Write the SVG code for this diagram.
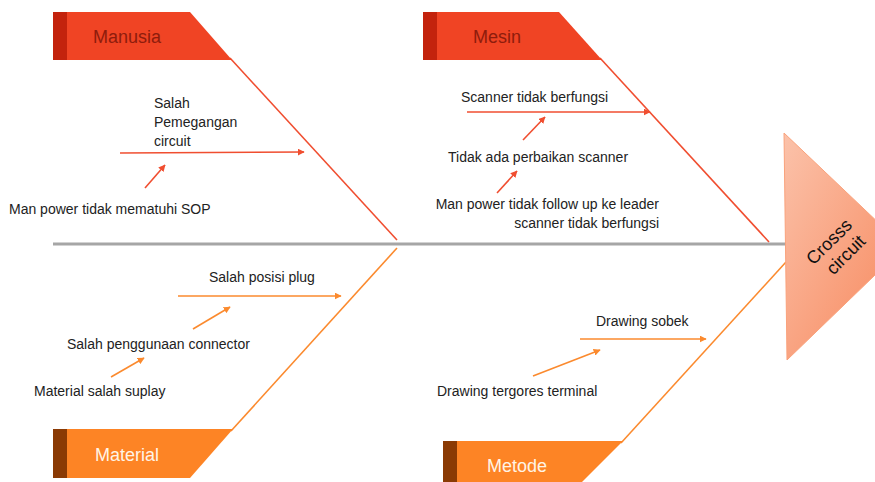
<svg xmlns="http://www.w3.org/2000/svg" width="875" height="482" viewBox="0 0 875 482">
  <style>
    .lbl { font-family: "Liberation Sans", Arial, sans-serif; font-size: 14px; fill: #222; }
    .head { font-family: "Liberation Sans", Arial, sans-serif; font-size: 18px; }
    .red { stroke: #f04e30; stroke-width: 1.6; fill: none; }
    .org { stroke: #fb8a2e; stroke-width: 1.6; fill: none; }
    .redA { stroke: #f04e30; stroke-width: 1.6; fill: none; marker-end: url(#ah-red); }
    .orgA { stroke: #fb8a2e; stroke-width: 1.6; fill: none; marker-end: url(#ah-org); }
  </style>
  <defs>
    <marker id="ah-red" viewBox="0 0 10 10" refX="9" refY="5" markerWidth="7" markerHeight="7" markerUnits="userSpaceOnUse" orient="auto">
      <path d="M0,0 L10,5 L0,10 z" fill="#f04e30"/>
    </marker>
    <marker id="ah-org" viewBox="0 0 10 10" refX="9" refY="5" markerWidth="7" markerHeight="7" markerUnits="userSpaceOnUse" orient="auto">
      <path d="M0,0 L10,5 L0,10 z" fill="#fb8a2e"/>
    </marker>
    <linearGradient id="headGrad" x1="0" y1="0" x2="1" y2="1">
      <stop offset="0" stop-color="#fbc2aa"/>
      <stop offset="1" stop-color="#f7865a"/>
    </linearGradient>
  </defs>

  <!-- connectors: spine, bones and cause arrows -->
  <g id="connectors">
    <line x1="53" y1="244" x2="786" y2="244" stroke="#a6a6a6" stroke-width="3"/>
    <line class="red" x1="230" y1="58" x2="397" y2="240"/>
    <line class="red" x1="600" y1="58" x2="769" y2="242"/>
    <line class="org" x1="231" y1="431" x2="397" y2="248"/>
    <line class="org" x1="621" y1="443" x2="786" y2="262"/>

    <line class="redA" x1="120" y1="153" x2="304" y2="152"/>
    <line class="redA" x1="145" y1="188" x2="165" y2="165"/>

    <line class="redA" x1="467" y1="112" x2="650" y2="112"/>
    <line class="redA" x1="523" y1="140" x2="545" y2="117"/>
    <line class="redA" x1="497" y1="193" x2="517" y2="171"/>

    <line class="orgA" x1="178" y1="296" x2="341" y2="296"/>
    <line class="orgA" x1="193" y1="329" x2="230" y2="307"/>
    <line class="orgA" x1="111" y1="377" x2="144" y2="358"/>

    <line class="orgA" x1="580" y1="339" x2="706" y2="339"/>
    <line class="orgA" x1="533" y1="376" x2="600" y2="350"/>
  </g>

  <!-- category headers -->
  <g id="manusia">
    <path d="M53,12 H190 L232,60 H53 Z" fill="#f04424"/>
    <rect x="53" y="12" width="14" height="48" fill="#c3230d"/>
    <text class="head" x="127" y="43" text-anchor="middle" fill="#8e1c0c">Manusia</text>
  </g>
  <g id="mesin">
    <path d="M423,12 H559 L602,60 H423 Z" fill="#f04424"/>
    <rect x="423" y="12" width="14" height="48" fill="#c3230d"/>
    <text class="head" x="497" y="43" text-anchor="middle" fill="#8e1c0c">Mesin</text>
  </g>
  <g id="material">
    <path d="M53,429 H233 L190,478 H53 Z" fill="#fd8425"/>
    <rect x="53" y="429" width="14" height="49" fill="#8a3a04"/>
    <text class="head" x="127" y="461" text-anchor="middle" fill="#fff4e6">Material</text>
  </g>
  <g id="metode">
    <path d="M443,441 H623 L582,482 H443 Z" fill="#fd8425"/>
    <rect x="443" y="441" width="14" height="41" fill="#8a3a04"/>
    <text class="head" x="517" y="472" text-anchor="middle" fill="#fff4e6">Metode</text>
  </g>

  <!-- effect head -->
  <g id="effect">
    <path d="M784,133 L904,247 L787,360 Z" fill="url(#headGrad)" stroke="#f9a27c" stroke-width="1"/>
    <text class="head" transform="translate(838,247) rotate(-45)" text-anchor="middle" fill="#111" font-size="19">
      <tspan x="0" y="-4">Crosss</tspan>
      <tspan x="0" y="17">circuit</tspan>
    </text>
  </g>

  <!-- cause labels -->
  <g id="c-salah-pemegangan">
    <text class="lbl" x="154" y="108">Salah</text>
    <text class="lbl" x="154" y="127">Pemegangan</text>
    <text class="lbl" x="154" y="146">circuit</text>
  </g>
  <g id="c-man-power-sop">
    <text class="lbl" x="9" y="214">Man power tidak mematuhi SOP</text>
  </g>
  <g id="c-scanner">
    <text class="lbl" x="461" y="102">Scanner tidak berfungsi</text>
  </g>
  <g id="c-perbaikan">
    <text class="lbl" x="448" y="162">Tidak ada perbaikan scanner</text>
  </g>
  <g id="c-follow-up">
    <text class="lbl" x="659" y="209" text-anchor="end" font-size="14.5">Man power tidak follow up ke leader</text>
    <text class="lbl" x="659" y="228" text-anchor="end" font-size="14.5">scanner tidak berfungsi</text>
  </g>
  <g id="c-posisi-plug">
    <text class="lbl" x="209" y="282">Salah posisi plug</text>
  </g>
  <g id="c-connector">
    <text class="lbl" x="67" y="349">Salah penggunaan connector</text>
  </g>
  <g id="c-suplay">
    <text class="lbl" x="34" y="396">Material salah suplay</text>
  </g>
  <g id="c-sobek">
    <text class="lbl" x="596" y="326">Drawing sobek</text>
  </g>
  <g id="c-tergores">
    <text class="lbl" x="437" y="396">Drawing tergores terminal</text>
  </g>
</svg>
